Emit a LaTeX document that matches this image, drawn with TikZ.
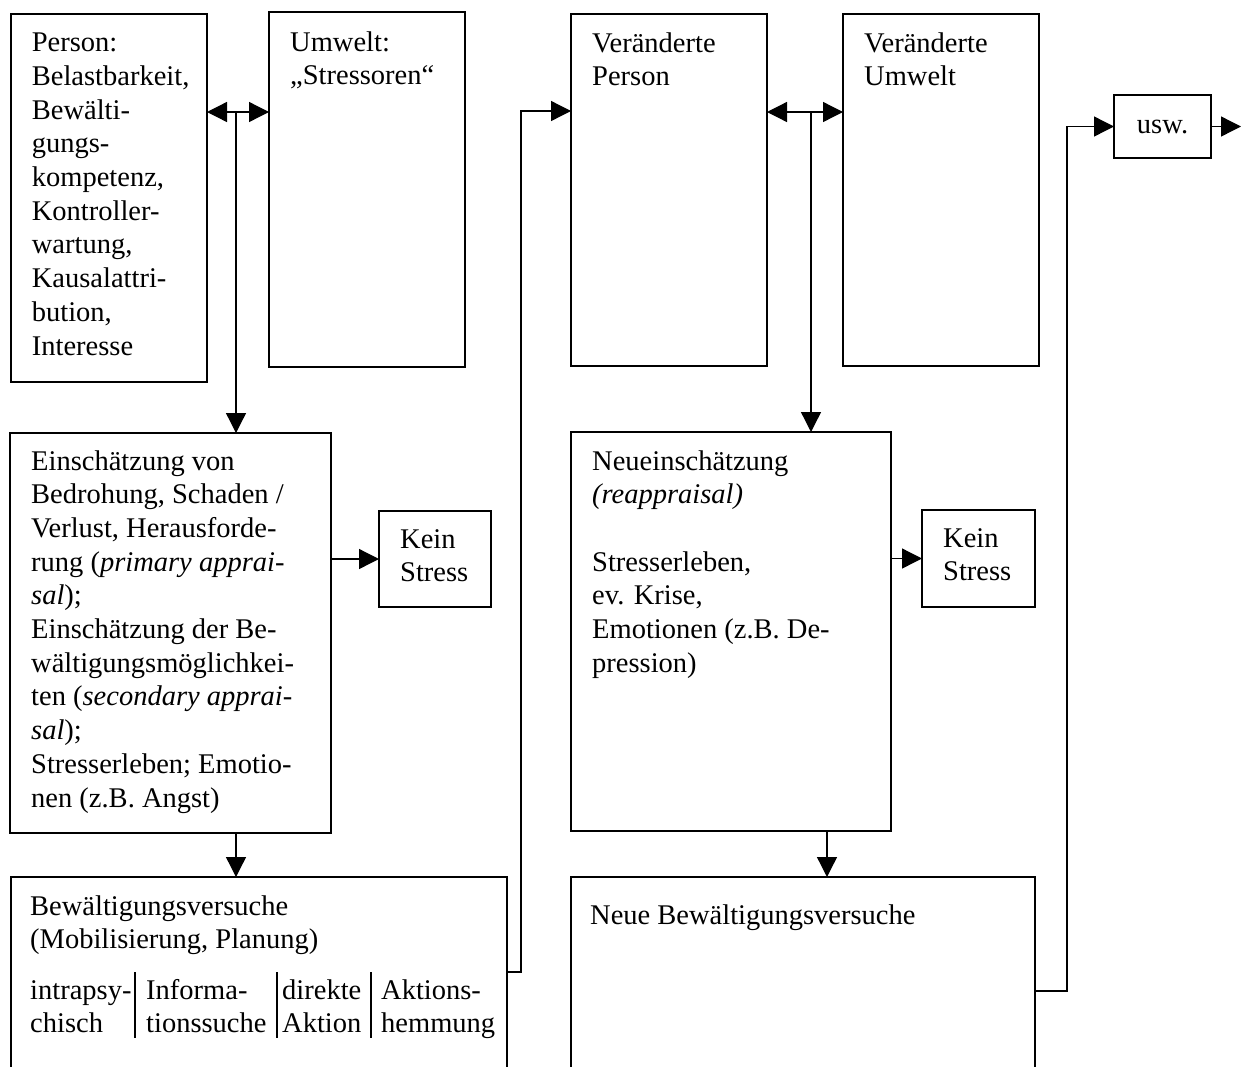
\documentclass[tikz,border=0pt]{standalone}
\usepackage{fontspec}
\setmainfont{Liberation Serif}
\usetikzlibrary{arrows.meta}
\newcommand\mylines[1]{\begin{tabular}[t]{@{}l@{}}#1\end{tabular}}
\begin{document}
\begin{tikzpicture}[x=1pt,y=-1pt,
  box/.style={draw, line width=1.3pt, anchor=north west, inner sep=0pt, outer sep=0pt},
  txt/.style={anchor=base west, inner sep=0pt, font=\fontsize{28.5}{33.7}\selectfont},
  arr/.style={line width=1.3pt, -{Triangle[length=20pt,width=20pt]}},
  dbl/.style={line width=1.3pt, {Triangle[length=20pt,width=20pt]}-{Triangle[length=20pt,width=20pt]}},
  ln/.style={line width=1.2pt}]
\useasboundingbox (0,0) rectangle (1242,1066);
\clip (0,0) rectangle (1242,1066);

% boxes
\node[box, minimum width=196pt, minimum height=368pt] (person) at (11,14) {};
\node[box, minimum width=196pt, minimum height=355pt] (umwelt) at (269,12) {};
\node[box, minimum width=196pt, minimum height=352pt] (vperson) at (571,14) {};
\node[box, minimum width=196pt, minimum height=352pt] (vumwelt) at (843,14) {};
\node[box, minimum width=97pt, minimum height=63pt] (usw) at (1114,95) {};
\node[box, minimum width=321pt, minimum height=400pt] (einsch) at (10,433) {};
\node[box, minimum width=112pt, minimum height=96pt] (kein1) at (379,511) {};
\node[box, minimum width=496pt, minimum height=260pt] (bew) at (11,877) {};
\node[box, minimum width=320pt, minimum height=399pt] (neu) at (571,432) {};
\node[box, minimum width=113pt, minimum height=97pt] (kein2) at (922,510) {};
\node[box, minimum width=464pt, minimum height=260pt] (nbew) at (571,877) {};

% texts
\node[txt] (tperson) at (31.7,51.7) {\mylines{Person:\\Belastbarkeit,\\Bewälti-\\gungs-\\kompetenz,\\Kontroller-\\wartung,\\Kausalattri-\\bution,\\Interesse}};
\node[txt] (tumwelt) at (290,51) {\mylines{Umwelt:\\„Stressoren“}};
\node[txt] (tvperson) at (592,52) {\mylines{Veränderte\\Person}};
\node[txt] (tvumwelt) at (864,52) {\mylines{Veränderte\\Umwelt}};
\node[txt, anchor=center] (tusw) at (usw.center) {usw.};
\node[txt] (teinsch) at (31,470) {\mylines{Einschätzung von\\Bedrohung, Schaden /\\Verlust, Herausforde-\\rung (\textit{primary apprai-}\\\textit{sal});\\Einschätzung der Be-\\wältigungsmöglichkei-\\ten (\textit{secondary apprai-}\\\textit{sal});\\Stresserleben; Emotio-\\nen (z.B. Angst)}};
\node[txt] (tkein1) at (400,548) {\mylines{Kein\\Stress}};
\node[txt] (tneu) at (592,470) {\mylines{Neueinschätzung\\\textit{(reappraisal)}\\ \\Stresserleben,\\ev. Krise,\\Emotionen (z.B. De-\\pression)}};
\node[txt] (tkein2) at (943,547) {\mylines{Kein\\Stress}};
\node[txt] (tbew) at (30,915) {\mylines{Bewältigungsversuche\\(Mobilisierung, Planung)}};
\node[txt] (tc1) at (30,999) {\mylines{intrapsy-\\chisch}};
\node[txt] (tc2) at (146,999) {\mylines{Informa-\\tionssuche}};
\node[txt] (tc3) at (282,999) {\mylines{direkte\\Aktion}};
\node[txt] (tc4) at (381,999) {\mylines{Aktions-\\hemmung}};
\node[txt] (tnbew) at (590,924) {Neue Bewältigungsversuche};

% column separators
\draw[ln] (135,972) -- (135,1038);
\draw[ln] (277,972) -- (277,1038);
\draw[ln] (371,972) -- (371,1038);

% connectors
\coordinate (j1) at (236,112);
\draw[dbl] (person.east |- j1) -- (umwelt.west |- j1);
\draw[arr] (j1) -- (einsch.north -| j1);
\draw[arr] (einsch.east |- kein1.west) -- (kein1.west);
\draw[arr] (einsch.south -| j1) -- (bew.north -| j1);

\coordinate (c1) at (521,972);
\coordinate (c1t) at (521,111);
\draw[arr] (bew.east |- c1) -- (c1) -- (c1t) -- (vperson.west |- c1t);

\coordinate (j2) at (811,112);
\draw[dbl] (vperson.east |- j2) -- (vumwelt.west |- j2);
\draw[arr] (j2) -- (neu.north -| j2);
\draw[arr] (neu.east |- kein2.west) -- (kein2.west);
\coordinate (j3) at (827,850);
\draw[arr] (neu.south -| j3) -- (nbew.north -| j3);

\coordinate (c2) at (1067,991);
\draw[arr] (nbew.east |- c2) -- (c2) -- (c2 |- usw.west) -- (usw.west);
\coordinate (out) at (1241,127);
\draw[arr] (usw.east) -- (usw.east -| out);
\end{tikzpicture}
\end{document}
